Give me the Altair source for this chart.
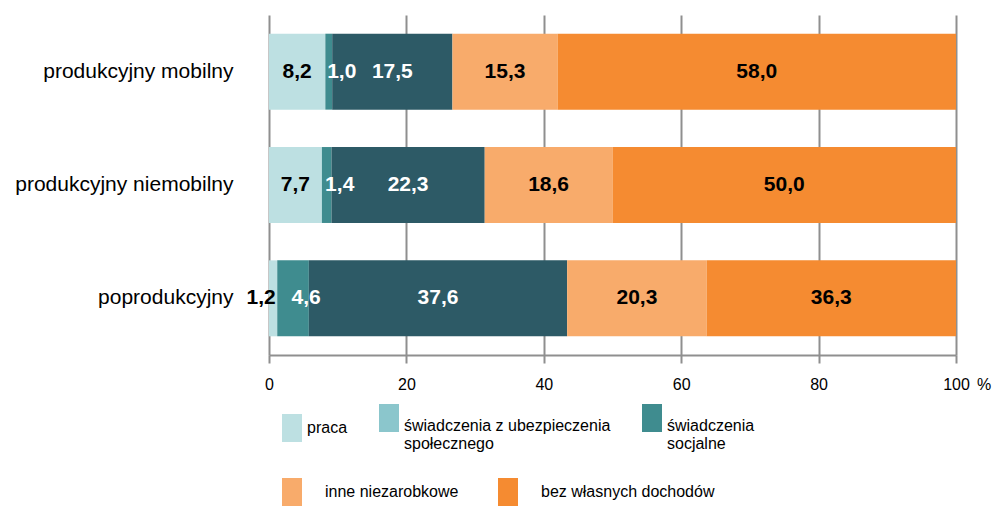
import altair as alt
import pandas as pd

categories = ["produkcyjny mobilny", "produkcyjny niemobilny", "poprodukcyjny"]
series = [
    "praca",
    "świadczenia z ubezpieczenia społecznego",
    "świadczenia socjalne",
    "inne niezarobkowe",
    "bez własnych dochodów",
]
praca = [8.2, 7.7, 1.2]
ubezp = [1.0, 1.4, 4.6]
socjalne = [17.5, 22.3, 37.6]
inne = [15.3, 18.6, 20.3]
bez = [58.0, 50.0, 36.3]

bar_colors = ["#bde0e2", "#3f8c8f", "#2d5a66", "#f8ab6b", "#f58b31"]
legend1_names = ["praca", "świadczenia z ubezpieczenia|społecznego", "świadczenia|socjalne"]
legend1_colors = ["#bde0e2", "#8bc6cc", "#3f8c8f"]
legend2_names = ["inne niezarobkowe", "bez własnych dochodów"]
legend2_colors = ["#f8ab6b", "#f58b31"]
x_ticks = [0, 20, 40, 60, 80, 100]

rows = []
all_vals = [praca, ubezp, socjalne, inne, bez]
for ci, cat in enumerate(categories):
    start = 0.0
    for si, s in enumerate(series):
        v = all_vals[si][ci]
        rows.append({
            "cat": cat, "series": s, "order": si, "value": v,
            "start": start, "end": start + v, "mid": start + v / 2,
            "label": f"{v:.1f}".replace(".", ","),
        })
        start += v
df = pd.DataFrame(rows)

W, H = 687, 340
LAB_FONT = "Liberation Sans"

y_enc = alt.Y("cat:N", sort=categories, title=None,
              scale=alt.Scale(paddingInner=0.33, paddingOuter=0.165),
              axis=alt.Axis(domain=False, ticks=False, grid=False, labelPadding=36,
                            labelFont=LAB_FONT, labelFontSize=21, labelColor="black",
                            minExtent=255, maxExtent=255, labelLimit=400))

base = alt.Chart(df)

bars = base.mark_bar().encode(
    x=alt.X("start:Q", scale=alt.Scale(domain=[0, 100], nice=False),
            axis=alt.Axis(values=x_ticks, title=None, grid=True, gridColor="#8f8f8f", gridWidth=2,
                          domainColor="#8f8f8f", domainWidth=2, tickColor="#8f8f8f", tickWidth=2,
                          tickSize=8, labelPadding=13, labelFont=LAB_FONT, labelFontSize=16,
                          labelColor="black", labelFlush=False)),
    x2="end:Q",
    y=y_enc,
    color=alt.Color("series:N", scale=alt.Scale(domain=series, range=bar_colors), legend=None),
)

txt_color = alt.condition(
    alt.FieldOneOfPredicate(field="series", oneOf=[series[1], series[2]]),
    alt.value("white"), alt.value("black"))

def text_layer(data_filter, dx):
    return base.transform_filter(data_filter).mark_text(
        font=LAB_FONT, fontSize=21, fontWeight="bold", dx=dx
    ).encode(x="mid:Q", y=alt.Y("cat:N", sort=categories), text="label:N", color=txt_color)

t_main = text_layer(
    f"datum.series != '{series[1]}' && !(datum.series == '{series[0]}' && datum.value < 2)", 0)
t_ubezp = text_layer(f"datum.series == '{series[1]}'", 13)
t_small = text_layer(f"datum.series == '{series[0]}' && datum.value < 2", -12)

pct = alt.Chart(pd.DataFrame({"x": [100], "t": ["%"]})).mark_text(
    font=LAB_FONT, fontSize=16, color="black", baseline="top", dx=28
).encode(x="x:Q", y=alt.value(H + 22), text="t:N")

def legend_layer(names, colors, lx, ly, lab_off, col_pad):
    return alt.Chart(pd.DataFrame({"name": names})).mark_point(size=0, filled=True, opacity=0).encode(
        x=alt.value(0), y=alt.value(0),
        color=alt.Color("name:N", scale=alt.Scale(domain=names, range=colors),
                        legend=alt.Legend(
                            title=None, orient="none", legendX=lx, legendY=ly,
                            direction="horizontal", columns=len(names),
                            symbolType="M-0.714,-1H0.714V1H-0.714Z", symbolSize=784,
                            symbolStrokeWidth=0, symbolOpacity=1,
                            labelFont=LAB_FONT, labelFontSize=16, labelColor="black",
                            labelOffset=lab_off, columnPadding=col_pad, padding=0,
                            labelExpr="split(datum.label, '|')", labelLimit=500,
                            labelBaseline=alt.ExprRef(
                                "indexof(datum.label, '|') >= 0 ? 'top' : 'middle'"))),
    )

leg1 = legend_layer(legend1_names, legend1_colors, 9, 389, 1, 27)
leg2 = legend_layer(legend2_names, legend2_colors, 9, 463, 19, 35)

chart = alt.layer(bars, t_main, t_ubezp, t_small, pct, leg1, leg2).resolve_scale(
    color="independent"
).properties(
    width=W, height=H, padding={"top": 7, "left": 6, "right": 0, "bottom": 0}
).configure_view(stroke=None)

chart.save("out.html", embed_options={"renderer": "svg", "actions": False})
